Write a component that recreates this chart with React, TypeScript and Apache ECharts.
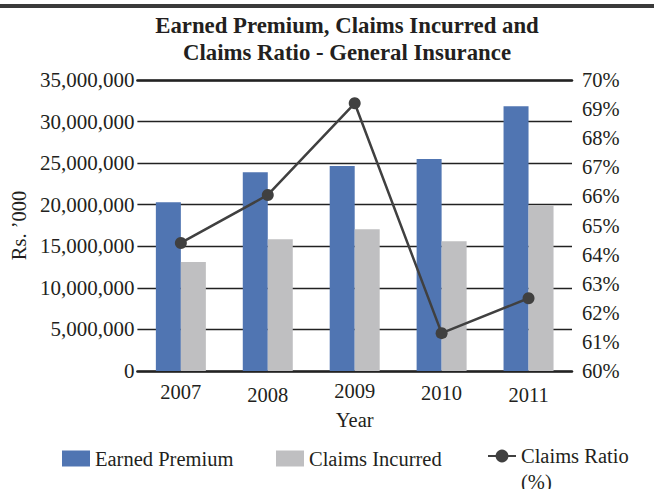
import React, { useEffect, useRef } from 'react';
import * as echarts from 'echarts';

const categories = ['2007', '2008', '2009', '2010', '2011'];
const earnedPremium = [20300000, 23900000, 24650000, 25500000, 31850000];
const claimsIncurred = [13100000, 15850000, 17050000, 15600000, 19950000];
const claimsRatio = [64.4, 66.05, 69.2, 61.3, 62.5];

const FONT = '"Liberation Serif", "Times New Roman", serif';
const TEXT = '#231f20';
const labelDrop = [1, 4, 0, 2, 4];

export default function App() {
  const ref = useRef<HTMLDivElement>(null);
  useEffect(() => {
    const chart = echarts.init(ref.current!, null, { renderer: 'svg' });
    const legendBase = {
      top: 448,
      padding: 0,
      itemWidth: 28,
      itemHeight: 16,
      textStyle: { fontFamily: FONT, fontSize: 20.5, color: TEXT },
    };
    chart.setOption({
      animation: false,
      textStyle: { fontFamily: FONT, color: TEXT },
      graphic: [
        {
          type: 'line',
          shape: { x1: 0, y1: 6, x2: 654, y2: 6 },
          style: { stroke: '#3a3a3a', lineWidth: 4 },
        },
        {
          type: 'text',
          x: 347,
          y: 12,
          style: {
            text: 'Earned Premium, Claims Incurred and\nClaims Ratio - General Insurance',
            textAlign: 'center',
            font: 'bold 22.8px "Liberation Serif"',
            lineHeight: 27,
            fill: TEXT,
          },
        },
      ],
      grid: { left: 130, right: 82, top: 80, bottom: 118 },
      legend: [
        { ...legendBase, left: 62, data: [{ name: 'Earned Premium', icon: 'rect' }] },
        { ...legendBase, left: 276, data: [{ name: 'Claims Incurred', icon: 'rect' }] },
        {
          ...legendBase,
          left: 487,
          top: 417,
          data: ['Claims Ratio'],
          formatter: () => '\nClaims Ratio\n(%)',
          textStyle: { ...legendBase.textStyle, lineHeight: 26 },
        },
      ],
      xAxis: [
        {
          type: 'category',
          data: categories.map((c, i) => ({ value: c, textStyle: { padding: [labelDrop[i], 0, 0, 0] } })),
          name: 'Year',
          nameLocation: 'middle',
          nameGap: 38,
          nameTextStyle: { fontFamily: FONT, fontSize: 20.5, color: TEXT },
          axisLine: { lineStyle: { color: '#222', width: 2.5 } },
          axisTick: { show: false },
          axisLabel: { margin: 9, fontSize: 20.5, color: TEXT, fontFamily: FONT },
        },
        {
          type: 'category',
          position: 'top',
          data: categories,
          axisLine: { lineStyle: { color: '#222', width: 2.5 } },
          axisTick: { show: false },
          axisLabel: { show: false },
        },
      ],
      yAxis: [
        {
          type: 'value',
          min: 0,
          max: 35000000,
          interval: 5000000,
          name: 'Rs. ’000',
          nameLocation: 'middle',
          nameGap: 106,
          nameTextStyle: { fontFamily: FONT, fontSize: 20.5, color: TEXT },
          axisLabel: {
            formatter: (v: number) => v.toLocaleString('en-US'),
            margin: 3,
            fontSize: 21,
            color: TEXT,
            fontFamily: FONT,
          },
          splitLine: { lineStyle: { color: '#222', width: 1.3 } },
          axisLine: { show: false },
          axisTick: { show: false },
        },
        {
          type: 'value',
          min: 60,
          max: 70,
          interval: 1,
          position: 'right',
          axisLabel: { formatter: '{value}%', margin: 10, fontSize: 20.5, color: TEXT, fontFamily: FONT },
          splitLine: { show: false },
          axisLine: { show: false },
          axisTick: { show: false },
        },
      ],
      series: [
        {
          name: 'Earned Premium',
          type: 'bar',
          data: earnedPremium,
          barWidth: 25,
          barGap: '0%',
          itemStyle: { color: '#5075b2' },
        },
        {
          name: 'Claims Incurred',
          type: 'bar',
          data: claimsIncurred,
          barWidth: 25,
          barGap: '0%',
          itemStyle: { color: '#bfbfc1' },
        },
        {
          name: 'Claims Ratio',
          type: 'line',
          yAxisIndex: 1,
          data: claimsRatio,
          symbol: 'circle',
          symbolSize: 12,
          lineStyle: { color: '#404040', width: 2.5 },
          itemStyle: { color: '#404040' },
          z: 5,
        },
      ],
    });
    return () => chart.dispose();
  }, []);
  return (
    <div
      ref={ref}
      style={{ position: 'absolute', left: 0, top: 0, width: 654, height: 489, background: '#fff' }}
    />
  );
}
